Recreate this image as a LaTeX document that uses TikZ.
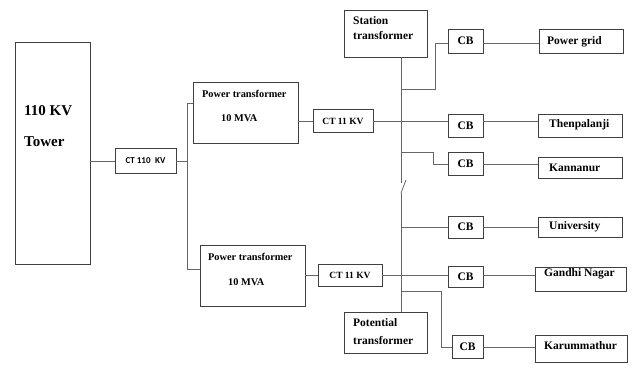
\documentclass[tikz,border=0pt]{standalone}
\usepackage{fontspec}
\setmainfont{Liberation Serif}
\newfontfamily\calibfont{Carlito}
\begin{document}
\begin{tikzpicture}[x=1pt,y=-1pt,
  box/.style={draw=black!75, line width=0.8pt, rectangle, inner sep=0pt},
  wire/.style={draw=black!60, line width=0.8pt},
  txt/.style={inner sep=0pt, anchor=west, font=\bfseries\fontsize{11.5}{12}\selectfont},
  ctxt/.style={inner sep=0pt, font=\bfseries\fontsize{11.5}{12}\selectfont},
  pttxt/.style={inner sep=0pt, anchor=west, font=\bfseries\fontsize{10.3}{12}\selectfont},
  cttxt/.style={inner sep=0pt, font=\bfseries\fontsize{9.5}{11}\selectfont},
  bigtxt/.style={inner sep=0pt, anchor=west, font=\bfseries\fontsize{15}{17}\selectfont}]
\useasboundingbox (0,0) rectangle (636,376);

% boxes
\node[box, minimum width=75pt, minimum height=222pt] (tower) at (52.5,153) {};
\node[box, minimum width=61pt, minimum height=25pt] (ctl) at (145.5,161) {};
\node[box, minimum width=105pt, minimum height=61pt] (pta) at (245.5,112.5) {};
\node[box, minimum width=105pt, minimum height=61pt] (ptb) at (252.5,275.5) {};
\node[box, minimum width=60pt, minimum height=23pt] (cta) at (343,121) {};
\node[box, minimum width=64pt, minimum height=22pt] (ctb) at (350,275) {};
\node[box, minimum width=83pt, minimum height=47pt] (st) at (385.5,33.5) {};
\node[box, minimum width=83pt, minimum height=41pt] (pot) at (385.5,332.5) {};
\node[box, minimum width=35pt, minimum height=24pt] (cba) at (465.5,41) {};
\node[box, minimum width=35pt, minimum height=23pt] (cbb) at (465.5,125.5) {};
\node[box, minimum width=35pt, minimum height=23pt] (cbc) at (465.5,163.5) {};
\node[box, minimum width=35pt, minimum height=22pt] (cbd) at (465.5,227) {};
\node[box, minimum width=35pt, minimum height=21pt] (cbe) at (465.5,276.5) {};
\node[box, minimum width=31pt, minimum height=23pt] (cbf) at (467.5,346.5) {};
\node[box, minimum width=84pt, minimum height=24pt] (grid) at (581,41) {};
\node[box, minimum width=84pt, minimum height=23pt] (then) at (580,125.5) {};
\node[box, minimum width=84pt, minimum height=21pt] (kann) at (580,167.5) {};
\node[box, minimum width=84pt, minimum height=20pt] (univ) at (580,227) {};
\node[box, minimum width=91pt, minimum height=24pt] (gand) at (580.5,279) {};
\node[box, minimum width=92pt, minimum height=27pt] (karu) at (581,348.5) {};

% texts
\node[bigtxt] (t1) at (24,111) {110 KV};
\node[bigtxt] (t2) at (24,142) {Tower};
\node[inner sep=0pt, font=\calibfont\bfseries\fontsize{9}{10}\selectfont] (t3) at (ctl.center) {CT 110\,\,\,KV};
\node[pttxt] (t4) at (202,94) {Power transformer};
\node[pttxt] (t5) at (221,118) {10 MVA};
\node[pttxt] (t6) at (208,257) {Power transformer};
\node[pttxt] (t7) at (228,282) {10 MVA};
\node[cttxt] (t8) at (cta.center) {CT 11 KV};
\node[cttxt] (t9) at (ctb.center) {CT 11 KV};
\node[txt] (t10) at (353,21) {Station};
\node[txt] (t11) at (353,36) {transformer};
\node[txt] (t12) at (353,323) {Potential};
\node[txt] (t13) at (353,340) {transformer};
\node[ctxt] (t14) at (cba.center) {CB};
\node[ctxt] (t15) at (cbb.center) {CB};
\node[ctxt] (t16) at (cbc.center) {CB};
\node[ctxt] (t17) at (cbd.center) {CB};
\node[ctxt] (t18) at (cbe.center) {CB};
\node[ctxt] (t19) at (cbf.center) {CB};
\node[txt] (t20) at (547,42) {Power grid};
\node[txt] (t21) at (549,125) {Thenpalanji};
\node[txt] (t22) at (549,168) {Kannanur};
\node[txt] (t23) at (549,227) {University};
\node[txt] (t24) at (544,274) {Gandhi Nagar};
\node[txt] (t25) at (544,346) {Karummathur};

% junction coordinates
\coordinate (vtop) at (187,103);
\coordinate (vmid) at (187,161);
\coordinate (vbot) at (187,269);
\coordinate (b1) at (401,183);
\coordinate (b2) at (401,193);
\coordinate (sw) at (406,180);
\coordinate (ja) at (401,89);
\coordinate (ka) at (435,43);
\coordinate (jc) at (401,152);
\coordinate (kc) at (433,164);
\coordinate (jd) at (401,227);
\coordinate (jf) at (401,291);
\coordinate (kf) at (441,347);

% connectors
\draw[wire] (tower.east |- ctl.west) -- (ctl.west);
\draw[wire] (ctl.east) -- (vmid);
\draw[wire] (pta.west |- vtop) -- (vtop) -- (vbot) -- (ptb.west |- vbot);
\draw[wire] (pta.east |- cta.west) -- (cta.west);
\draw[wire] (ptb.east |- ctb.west) -- (ctb.west);
\draw[wire] (cta.east) -- (cta.east -| cbb.west);
\draw[wire] (ctb.east) -- (ctb.east -| cbe.west);
% bus with switch
\draw[wire] (st.south -| b1) -- (b1);
\draw[wire] (b2) -- (b2 |- pot.north);
\draw[wire] (b2) -- (sw);
% branches
\draw[wire] (ja) -- (ja -| ka) -- (ka) -- (ka -| cba.west);
\draw[wire] (cba.east |- ka) -- (ka -| grid.west);
\draw[wire] (cbb.east |- cta.east) -- (cta.east -| then.west);
\draw[wire] (jc) -- (jc -| kc) -- (kc) -- (kc -| cbc.west);
\draw[wire] (cbc.east |- kc) -- (kc -| kann.west);
\draw[wire] (jd) -- (jd -| cbd.west);
\draw[wire] (cbd.east |- jd) -- (jd -| univ.west);
\draw[wire] (cbe.east |- ctb.east) -- (ctb.east -| gand.west);
\draw[wire] (jf) -- (jf -| kf) -- (kf) -- (kf -| cbf.west);
\draw[wire] (cbf.east |- kf) -- (kf -| karu.west);
\end{tikzpicture}
\end{document}
